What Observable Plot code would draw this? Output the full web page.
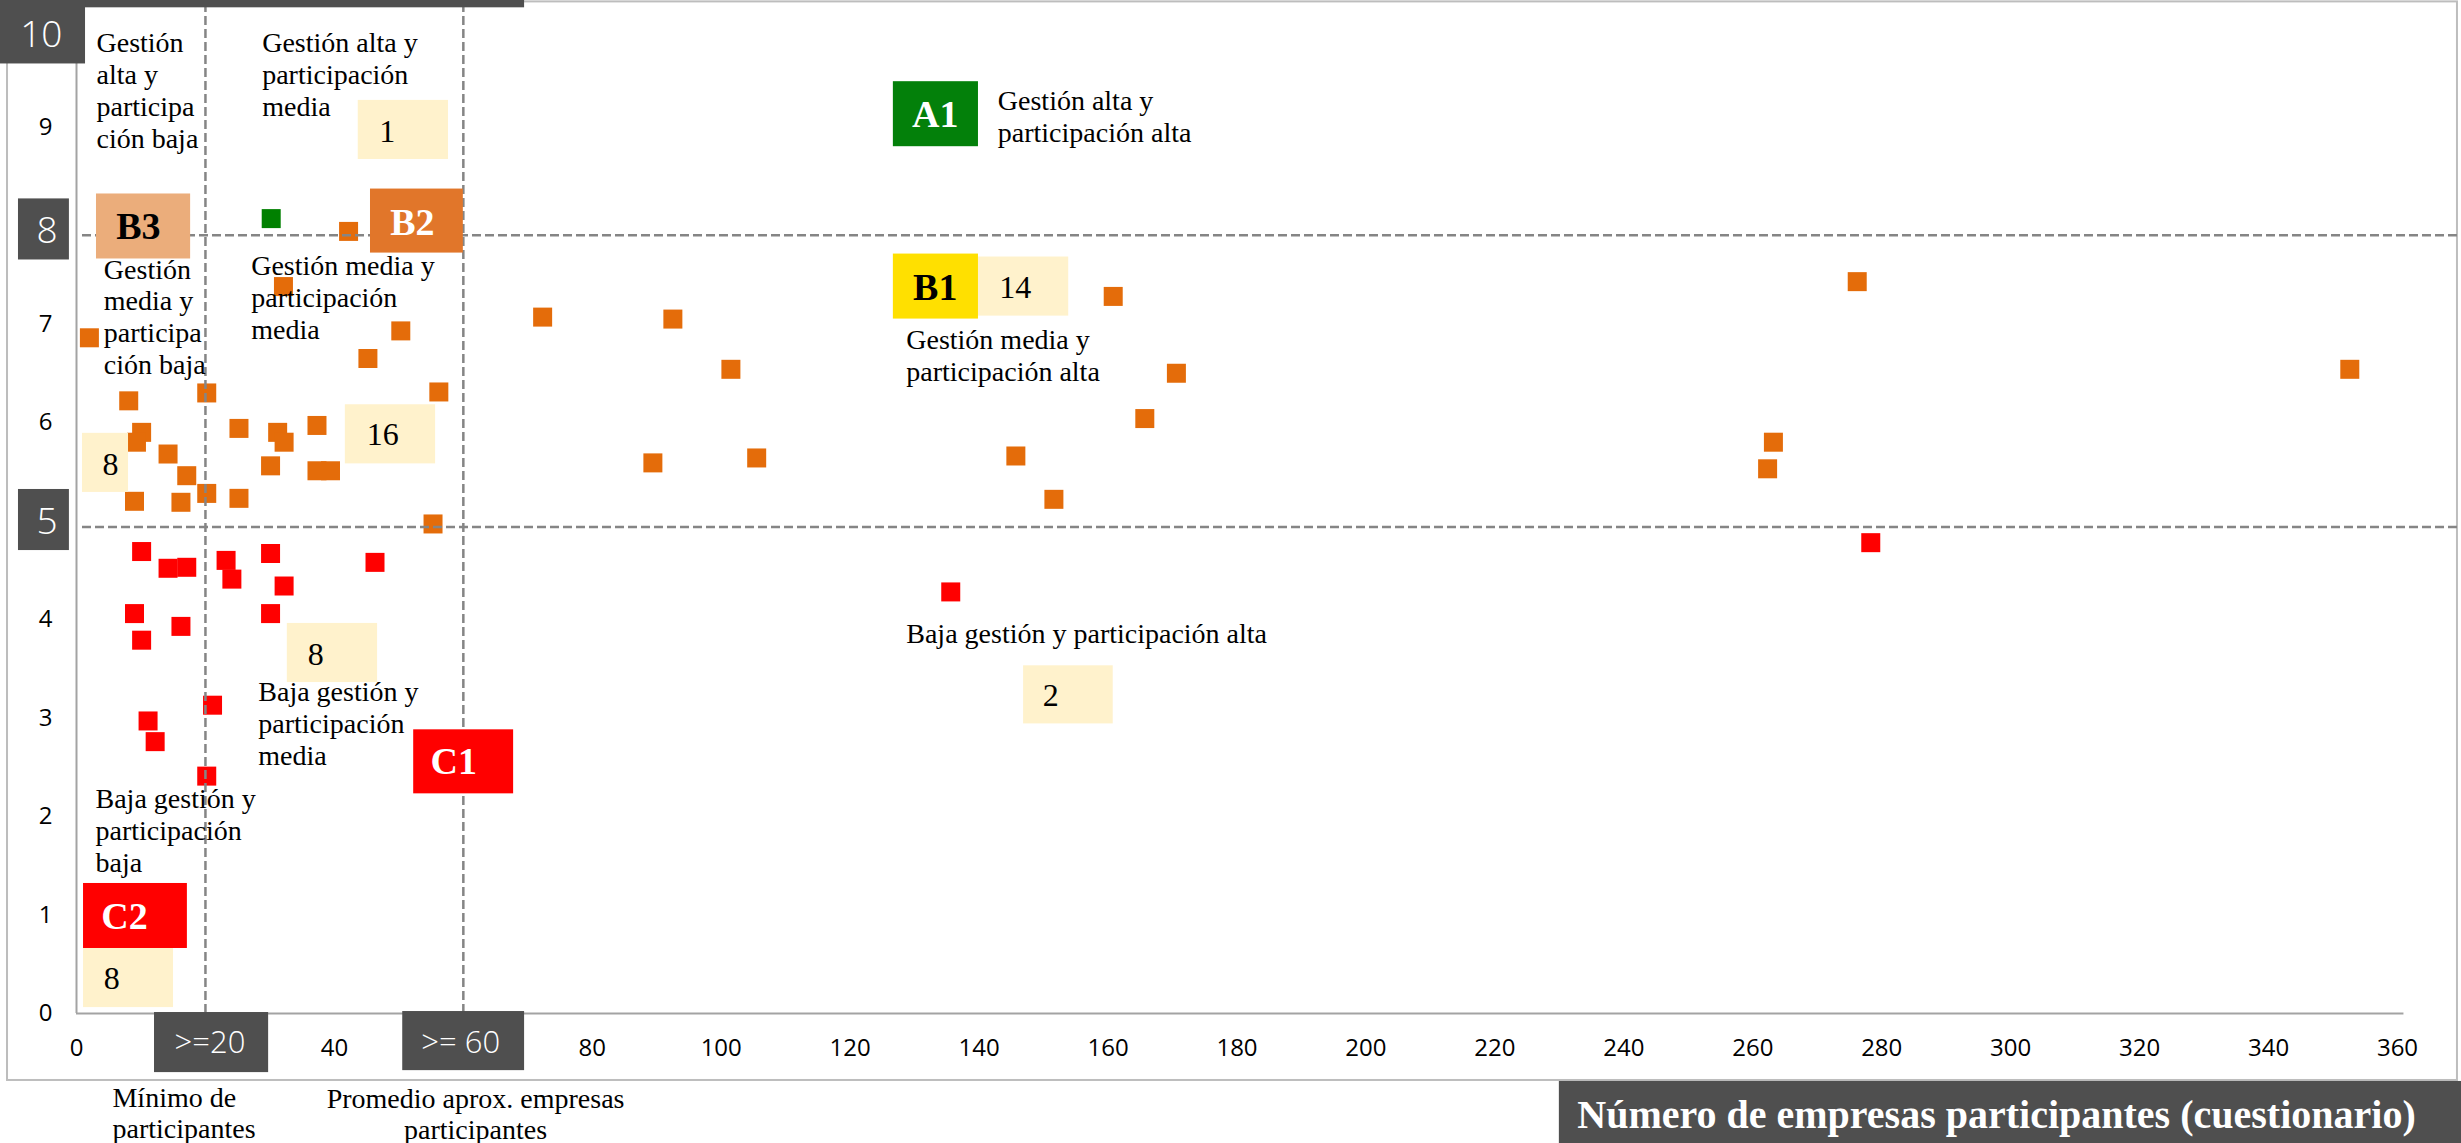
<!DOCTYPE html>
<html>
<head>
<meta charset="utf-8">
<script src="https://cdn.jsdelivr.net/npm/d3@7"></script>
<script src="https://cdn.jsdelivr.net/npm/@observablehq/plot@0.6"></script>
<style>
  html, body { margin: 0; padding: 0; background: #fff; overflow: hidden; }
  #chart svg { display: block; }
</style>
</head>
<body>
<div id="chart"></div>
<script>
// ---------------- DATA ----------------
// Orange series: gestión media (5–8)
const orangeX = [2.0, 8.1, 10.1, 9.3, 14.2, 17.1, 9.0, 16.2,
                 42.2, 32.1, 50.3, 45.2, 20.2, 56.2, 20.2, 25.2, 25.2, 31.2, 32.2, 37.3, 30.1, 37.3, 39.4, 55.3,
                 72.3, 92.5, 101.5, 89.4, 105.5, 145.7, 151.6, 160.8, 170.6, 165.7, 276.2, 263.2, 262.3, 352.6];
const orangeY = [6.86, 6.22, 5.90, 5.80, 5.68, 5.46, 5.20, 5.19,
                 7.94, 7.38, 6.93, 6.65, 6.30, 6.31, 5.28, 5.23, 5.94, 5.90, 5.80, 5.97, 5.56, 5.51, 5.51, 4.97,
                 7.07, 7.05, 6.54, 5.59, 5.64, 5.66, 5.22, 7.28, 6.50, 6.04, 7.43, 5.80, 5.53, 6.54];
// Red series: baja gestión (< 5)
const redX = [10.1, 14.2, 17.1, 23.2, 24.1, 30.1, 32.2, 46.3, 9.0, 30.1, 16.2, 10.1, 21.1, 11.1, 12.2, 20.2, 135.6, 278.3];
const redY = [4.69, 4.52, 4.53, 4.60, 4.41, 4.67, 4.34, 4.58, 4.06, 4.06, 3.93, 3.79, 3.13, 2.97, 2.76, 2.41, 4.28, 4.78];
// Green series: gestión alta (> 8)
const greenX = [30.2];
const greenY = [8.07];

// Thresholds (dashed lines) as drawn
const xCuts = [20, 60];
const yCuts = [4.94, 7.9];

// Tick labels
const xTicks = [0, 40, 80, 100, 120, 140, 160, 180, 200, 220, 240, 260, 280, 300, 320, 340, 360];
const yTicks = [0, 1, 2, 3, 4, 6, 7, 9];
const yBoxLabels = ["10", "8", "5"];
const xBoxLabels = [">=20", ">= 60"];

// Quadrant codes and counts
const codes = ["A1", "B1", "B2", "B3", "C1", "C2"];
const counts = ["1", "16", "8", "14", "8", "8", "2"];

const quadrantTexts = [
  "Gestión\nalta y\nparticipa\nción baja",
  "Gestión alta y\nparticipación\nmedia",
  "Gestión\nmedia y\nparticipa\nción baja",
  "Gestión media y\nparticipación\nmedia",
  "Baja gestión y\nparticipación\nmedia",
  "Baja gestión y\nparticipación\nbaja",
  "Gestión alta y\nparticipación alta",
  "Gestión media y\nparticipación alta",
  "Baja gestión y participación alta"
];
const xNotes = ["Mínimo de\nparticipantes", "Promedio aprox. empresas\nparticipantes"];
const xTitle = "Número de empresas participantes (cuestionario)";

// ---------------- LAYOUT (data units) ----------------
const SERIF = "'Liberation Serif', 'Times New Roman', serif";
const SANS = "'Open Sans', 'Noto Sans', sans-serif";
const DARK = "#4f4f4f";
const CREAM = "#fff2cc";

const pts = (xs, ys) => xs.map((x, i) => ({x, y: ys[i]}));

const yBoxLayout = [
  {x1: -12, x2: 1.4, y1: 9.64, y2: 10.4, tx: -5.45, ty: 9.93},
  {x1: -9.0, x2: -1.1, y1: 7.65, y2: 8.27, tx: -4.55, ty: 7.94},
  {x1: -9.0, x2: -1.1, y1: 4.70, y2: 5.32, tx: -4.55, ty: 4.99}
];
const xBoxLayout = [
  {x1: 12.1, x2: 29.8, y1: -0.60, y2: 0.01, tx: 20.7, ty: -0.30},
  {x1: 50.6, x2: 69.5, y1: -0.58, y2: 0.02, tx: 59.6, ty: -0.30}
];
const codeLayout = [
  {x1: 126.7, x2: 139.9, y1: 8.80, y2: 9.46, tx: 133.2, ty: 9.12, fill: "#03800a", ink: "#ffffff"},
  {x1: 126.7, x2: 139.9, y1: 7.05, y2: 7.71, tx: 133.2, ty: 7.37, fill: "#ffe000", ink: "#000000"},
  {x1: 45.6, x2: 60.0, y1: 7.72, y2: 8.37, tx: 52.1, ty: 8.03, fill: "#e1762a", ink: "#ffffff"},
  {x1: 3.1, x2: 17.7, y1: 7.66, y2: 8.32, tx: 9.6, ty: 7.99, fill: "#ebad7b", ink: "#000000"},
  {x1: 52.3, x2: 67.8, y1: 2.23, y2: 2.88, tx: 58.5, ty: 2.55, fill: "#ff0000", ink: "#ffffff"},
  {x1: 1.09, x2: 17.2, y1: 0.66, y2: 1.32, tx: 7.45, ty: 0.98, fill: "#ff0000", ink: "#ffffff"}
];
const countLayout = [
  {x1: 43.7, x2: 57.7, y1: 8.67, y2: 9.27, tx: 48.2, ty: 8.95},
  {x1: 41.7, x2: 55.7, y1: 5.58, y2: 6.18, tx: 47.5, ty: 5.88},
  {x1: 0.93, x2: 8.07, y1: 5.29, y2: 5.89, tx: 5.27, ty: 5.57},
  {x1: 139.9, x2: 153.9, y1: 7.08, y2: 7.68, tx: 145.6, ty: 7.37},
  {x1: 32.7, x2: 46.7, y1: 3.36, y2: 3.96, tx: 37.1, ty: 3.64},
  {x1: 1.09, x2: 15.05, y1: 0.06, y2: 0.66, tx: 5.46, ty: 0.35},
  {x1: 146.9, x2: 160.8, y1: 2.94, y2: 3.53, tx: 151.1, ty: 3.23}
];
const quadrantTextPos = [[3.1, 9.986], [28.8, 9.986], [4.24, 7.691], [27.1, 7.722], [28.2, 3.397],
                         [2.95, 2.311], [142.9, 9.397], [128.7, 6.971], [128.7, 3.986]];
const notePos = [{x: 5.58, y: -0.715, anchor: "start"}, {x: 61.9, y: -0.725, anchor: "middle"}];
const frameBox = {x1: -10.7, x2: 369.3, y1: -0.68, y2: 10.27};
const topBar = {x1: -12, x2: 69.5, y1: 10.21, y2: 10.4};
const titleBox = {x1: 230.0, x2: 372, y1: -1.45, y2: -0.69, tx: 297.8, ty: -1.035};

// ---------------- BUILD ----------------
const yBoxes = yBoxLabels.map((label, i) => ({label, ...yBoxLayout[i]}));
const xBoxes = xBoxLabels.map((label, i) => ({label, ...xBoxLayout[i]}));
const codeBoxes = codes.map((label, i) => ({label, ...codeLayout[i]}));
const countBoxes = counts.map((label, i) => ({label, ...countLayout[i]}));
const qTexts = quadrantTexts.map((text, i) => ({text, x: quadrantTextPos[i][0], y: quadrantTextPos[i][1]}));
const notes = xNotes.map((text, i) => ({text, ...notePos[i]}));

const TXT = {fontSize: 28, lineHeight: 1.136, fontFamily: SERIF, fill: "#000", lineAnchor: "top"};

const chart = Plot.plot({
  width: 2461,
  height: 1143,
  marginLeft: 76,
  marginRight: 64,
  marginTop: 28,
  marginBottom: 130,
  x: {domain: [0, 360], label: null},
  y: {domain: [0, 10], label: null},
  color: {type: "identity"},
  style: {background: "#ffffff", fontFamily: SANS, color: "#000"},
  marks: [
    // outer chart frame
    Plot.rect([frameBox], {x1: "x1", x2: "x2", y1: "y1", y2: "y2", fill: "none", stroke: "#bdbdbd", strokeWidth: 2}),
    // axis lines
    Plot.ruleX([0], {y1: 0, y2: 10, stroke: "#a3a3a3", strokeWidth: 2}),
    Plot.ruleY([0], {x1: 0, x2: 361, stroke: "#a3a3a3", strokeWidth: 2}),
    // data points
    Plot.dot(pts(orangeX, orangeY), {x: "x", y: "y", symbol: "square", r: 10.72, fill: "#e46c0a"}),
    Plot.dot(pts(redX, redY), {x: "x", y: "y", symbol: "square", r: 10.72, fill: "#ff0000"}),
    Plot.dot(pts(greenX, greenY), {x: "x", y: "y", symbol: "square", r: 10.72, fill: "#008000"}),
    // dashed thresholds
    Plot.ruleX(xCuts, {y1: 0, y2: 10.22, stroke: "#858585", strokeWidth: 2.5, strokeDasharray: "9,4"}),
    Plot.ruleY(yCuts, {x1: 0.93, x2: 369.3, stroke: "#858585", strokeWidth: 2.5, strokeDasharray: "9,4"}),
    // quadrant descriptions
    Plot.text(qTexts, {x: "x", y: "y", text: "text", textAnchor: "start", ...TXT}),
    // notes under the x axis
    Plot.text(notes.filter(d => d.anchor === "start"), {x: "x", y: "y", text: "text", textAnchor: "start", ...TXT}),
    Plot.text(notes.filter(d => d.anchor === "middle"), {x: "x", y: "y", text: "text", textAnchor: "middle", ...TXT}),
    // top dark bar
    Plot.rect([topBar], {x1: "x1", x2: "x2", y1: "y1", y2: "y2", fill: DARK}),
    // y label boxes
    Plot.rect(yBoxes, {x1: "x1", x2: "x2", y1: "y1", y2: "y2", fill: DARK}),
    Plot.text(yBoxes, {x: "tx", y: "ty", text: "label", fill: "#fff", fontSize: 37, fontWeight: 300, fontFamily: SANS, lineAnchor: "middle"}),
    // x label boxes
    Plot.rect(xBoxes, {x1: "x1", x2: "x2", y1: "y1", y2: "y2", fill: DARK}),
    Plot.text(xBoxes, {x: "tx", y: "ty", text: "label", fill: "#fff", fontSize: 31, fontWeight: 300, fontFamily: SANS, lineAnchor: "middle"}),
    // count boxes
    Plot.rect(countBoxes, {x1: "x1", x2: "x2", y1: "y1", y2: "y2", fill: CREAM}),
    Plot.text(countBoxes, {x: "tx", y: "ty", text: "label", fill: "#000", fontSize: 32, fontFamily: SERIF, lineAnchor: "middle"}),
    // code boxes
    Plot.rect(codeBoxes, {x1: "x1", x2: "x2", y1: "y1", y2: "y2", fill: "fill"}),
    Plot.text(codeBoxes, {x: "tx", y: "ty", text: "label", fill: "ink", fontSize: 38, fontWeight: "bold", fontFamily: SERIF, lineAnchor: "middle"}),
    // x-axis title box
    Plot.rect([titleBox], {x1: "x1", x2: "x2", y1: "y1", y2: "y2", fill: DARK}),
    Plot.text([titleBox], {x: "tx", y: "ty", text: () => xTitle, fill: "#fff", fontSize: 40, fontWeight: "bold", fontFamily: SERIF, lineAnchor: "middle"}),
    // axes
    Plot.axisX(xTicks, {tickSize: 0, tickPadding: 35, lineAnchor: "middle", fontSize: 24, fontFamily: SANS, fill: "#000", label: null, tickFormat: d => String(d)}),
    Plot.axisY(yTicks, {tickSize: 0, tickPadding: 31, textAnchor: "middle", fontSize: 24, fontFamily: SANS, fill: "#000", label: null, tickFormat: d => String(d)})
  ]
});

document.getElementById("chart").appendChild(chart);
</script>
</body>
</html>
